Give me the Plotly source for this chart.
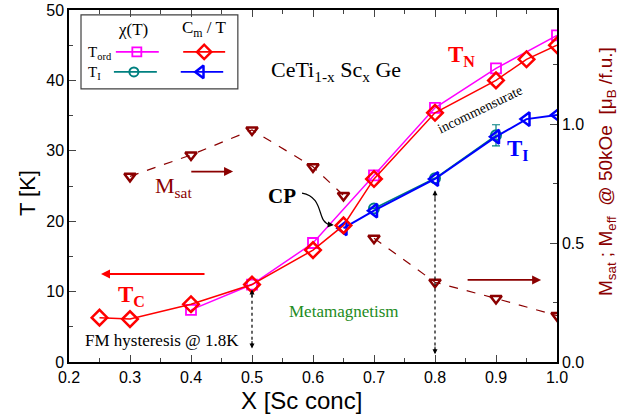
import plotly.graph_objects as go

# ---------------- data ----------------
x_cm_ord = [0.25, 0.3, 0.4, 0.5, 0.6, 0.65, 0.7, 0.8, 0.9, 0.95, 1.0]
t_cm_ord = [6.3, 6.1, 8.2, 11.0, 15.9, 19.4, 26.0, 35.4, 40.0, 43.0, 45.0]

x_chi_ord = [0.4, 0.5, 0.6, 0.7, 0.8, 0.9, 1.0]
t_chi_ord = [7.4, 11.0, 16.9, 26.5, 36.1, 41.7, 46.4]

x_cm_i = [0.65, 0.7, 0.8, 0.9, 0.95, 1.0]
t_cm_i = [19.0, 21.5, 26.0, 32.0, 34.5, 35.1]

x_chi_i = [0.7, 0.8, 0.9]
t_chi_i = [21.8, 26.1, 32.2]
err_chi_i = [0, 0, 1.5]

x_msat_fm = [0.3, 0.4, 0.5, 0.6, 0.65]
m_msat_fm = [0.78, 0.87, 0.975, 0.82, 0.70]

x_msat_af = [0.7, 0.8, 0.9, 1.0]
m_msat_af = [0.52, 0.335, 0.267, 0.195]

RED = "#FF0000"
MAG = "#FF00FF"
BLUE = "#0000FF"
TEAL = "#008080"
DRED = "#8B0000"
GREEN = "#228B22"
SERIF = "Liberation Serif, Times New Roman, serif"
SANS = "Liberation Sans, Arial, sans-serif"

fig = go.Figure()

# Msat (right axis)
for xs, ys in ((x_msat_fm, m_msat_fm), (x_msat_af, m_msat_af)):
    fig.add_trace(go.Scatter(x=xs, y=ys, yaxis="y2", mode="lines+markers",
                             line=dict(color=DRED, width=1.2, dash="dash"),
                             marker=dict(symbol="triangle-down-open", size=10, color=DRED,
                                         line=dict(width=2.5, color=DRED)),
                             showlegend=False))

# chi T_I
fig.add_trace(go.Scatter(x=x_chi_i, y=t_chi_i, mode="lines+markers",
                         line=dict(color=TEAL, width=1.5),
                         marker=dict(symbol="circle-open", size=10, color=TEAL,
                                     line=dict(width=2, color=TEAL)),
                         error_y=dict(type="data", array=err_chi_i, color=TEAL,
                                      thickness=1.2, width=4),
                         showlegend=False))
# Cm/T T_I
fig.add_trace(go.Scatter(x=x_cm_i, y=t_cm_i, mode="lines+markers",
                         line=dict(color=BLUE, width=2),
                         marker=dict(symbol="triangle-left-open", size=12, color=BLUE,
                                     line=dict(width=2.5, color=BLUE)),
                         showlegend=False))
# chi T_ord
fig.add_trace(go.Scatter(x=x_chi_ord, y=t_chi_ord, mode="lines+markers",
                         line=dict(color=MAG, width=1.5),
                         marker=dict(symbol="square-open", size=10, color=MAG,
                                     line=dict(width=1.8, color=MAG)),
                         showlegend=False))
# Cm/T T_ord
fig.add_trace(go.Scatter(x=x_cm_ord, y=t_cm_ord, mode="lines+markers",
                         line=dict(color=RED, width=1.5),
                         marker=dict(symbol="diamond-open", size=12, color=RED,
                                     line=dict(width=2.5, color=RED)),
                         showlegend=False))

# ---------------- manual legend (hidden overlay axes, 0..1) ----------------
leg_rows = [
    ([0.096, 0.139, 0.184], 0.881, MAG, "square-open", 9, 1.8),
    ([0.234, 0.277, 0.320], 0.881, RED, "diamond-open", 11, 2.5),
    ([0.092, 0.133, 0.180], 0.824, TEAL, "circle-open", 9, 2),
    ([0.229, 0.270, 0.316], 0.824, BLUE, "triangle-left-open", 11, 2.5),
]
for xs, yy, col, sym, sz, lw in leg_rows:
    fig.add_trace(go.Scatter(x=xs, y=[yy] * 3, xaxis="x3", yaxis="y3", mode="lines",
                             line=dict(color=col, width=1.8), showlegend=False,
                             hoverinfo="skip"))
    fig.add_trace(go.Scatter(x=[xs[1]], y=[yy], xaxis="x3", yaxis="y3", mode="markers",
                             marker=dict(symbol=sym, size=sz, color=col,
                                         line=dict(width=lw, color=col)),
                             showlegend=False, hoverinfo="skip"))

shapes = []
shapes.append(dict(type="rect", xref="paper", yref="paper", x0=0.0246, x1=0.346,
                   y0=0.776, y1=0.986, line=dict(color="#404040", width=1.2),
                   fillcolor="rgba(0,0,0,0)"))
# dotted vertical lines
shapes.append(dict(type="line", xref="x", yref="y", x0=0.5, x1=0.5, y0=2.3, y1=10.0,
                   line=dict(color="black", width=1.2, dash="dot")))
shapes.append(dict(type="line", xref="x", yref="y", x0=0.8, x1=0.8, y0=1.5, y1=24.0,
                   line=dict(color="black", width=1.2, dash="dot")))
# CP curved arrow
shapes.append(dict(type="path", xref="x", yref="y",
                   path="M 0.582,24.0 C 0.62,23.4 0.605,19.8 0.628,19.5",
                   line=dict(color="black", width=1.2)))

ann = []
def txt(x, y, s, size, color="black", font=SERIF, **kw):
    ann.append(dict(x=x, y=y, xref="x", yref="y", text=s, showarrow=False,
                    xanchor="center", yanchor="middle",
                    font=dict(size=size, color=color, family=font), **kw))

txt(0.638, 41.3, "CeTi<sub>1-x</sub> Sc<sub>x</sub> Ge", 22)
txt(0.843, 43.4, "<b>T<sub>N</sub></b>", 23, RED)
txt(0.936, 30.1, "<b>T<sub>I</sub></b>", 23, BLUE)
txt(0.302, 9.4, "<b>T<sub>C</sub></b>", 23, RED)
txt(0.372, 24.9, "M<sub>sat</sub>", 22, DRED)
txt(0.549, 23.6, "<b>CP</b>", 21)
txt(0.874, 35.8, "incommensurate", 14, textangle=-26)
txt(0.650, 7.2, "Metamagnetism", 17, GREEN)
txt(0.353, 3.0, "FM hysteresis @ 1.8K", 17)

def arrow(x0, y0, x1, y1, color, width=1.8, yref="y", head=2, size=1):
    ann.append(dict(x=x1, y=y1, ax=x0, ay=y0, xref="x", yref=yref, axref="x",
                    ayref=yref, text="", showarrow=True, arrowhead=head,
                    arrowsize=size, arrowwidth=width, arrowcolor=color))

arrow(0.4246, 12.5, 0.2525, 12.5, RED)
arrow(0.398, 0.80, 0.469, 0.80, DRED, yref="y2")
arrow(0.851, 0.345, 0.974, 0.345, DRED, yref="y2")
# small heads on dotted lines
arrow(0.5, 9.0, 0.5, 10.3, "black", width=1, head=2)
arrow(0.5, 3.2, 0.5, 1.9, "black", width=1, head=2)
arrow(0.8, 23.0, 0.8, 24.4, "black", width=1, head=2)
arrow(0.8, 2.4, 0.8, 1.1, "black", width=1, head=2)
# CP arrowhead
arrow(0.622, 19.55, 0.634, 19.45, "black", width=1.2, head=2)

# paper-referenced texts (legend, axis titles)
def ptxt(x, y, s, size, xanchor="center", color="black", font=SERIF, **kw):
    ann.append(dict(x=x, y=y, xref="paper", yref="paper", text=s, showarrow=False,
                    xanchor=xanchor, yanchor="middle",
                    font=dict(size=size, color=color, family=font), **kw))
ptxt(0.131, 0.945, "χ(T)", 17)
ptxt(0.277, 0.945, "C<sub>m</sub> / T", 17)
ptxt(0.035, 0.878, "T<sub>ord</sub>", 15, xanchor="left")
ptxt(0.035, 0.821, "T<sub>I</sub>", 15, xanchor="left")

ptxt(0.477, -0.108, "X [Sc conc]", 24, font=SANS)
ptxt(-0.086, 0.48, "T [K]", 22, font=SANS, textangle=-90)
ptxt(1.102, 0.542,
     "M<sub>sat</sub> ; M<sub>eff</sub>  @ 50kOe  [μ<sub>B</sub> /f.u.]",
     19, font=SANS, color=DRED, textangle=-90)

fig.update_layout(
    template="none",
    width=642, height=415,
    margin=dict(l=69, r=85, t=10, b=53, autoexpand=False),
    paper_bgcolor="white", plot_bgcolor="white",
    font=dict(family=SANS, size=16, color="black"),
    xaxis=dict(range=[0.2, 1.0], dtick=0.1, tick0=0.2, tickformat=".1f",
               ticks="inside", ticklen=7, tickwidth=1.2, showline=True, linewidth=1.5,
               linecolor="black", mirror="ticks", showgrid=False, zeroline=False,
               automargin=False,
               minor=dict(dtick=0.05, ticks="inside", ticklen=4, tickwidth=1),
               tickfont=dict(size=16)),
    yaxis=dict(range=[0, 50], dtick=10, ticks="inside", ticklen=7, tickwidth=1.2,
               showline=True, linewidth=1.5, linecolor="black", showgrid=False,
               zeroline=False, automargin=False,
               minor=dict(dtick=5, ticks="inside", ticklen=4, tickwidth=1),
               tickfont=dict(size=16)),
    yaxis2=dict(range=[0, 1.479], dtick=0.5, tickformat=".1f", overlaying="y",
                side="right", ticks="inside", ticklen=7, tickwidth=1.2,
                showline=True, linewidth=1.5, linecolor="black", showgrid=False,
                zeroline=False, automargin=False,
                minor=dict(dtick=0.25, ticks="inside", ticklen=4, tickwidth=1),
                tickfont=dict(size=16)),
    xaxis3=dict(range=[0, 1], overlaying="x", visible=False, fixedrange=True),
    yaxis3=dict(range=[0, 1], overlaying="y", visible=False, fixedrange=True),
    shapes=shapes,
    annotations=ann,
    showlegend=False,
)

fig.write_html("out.html", config={"displayModeBar": False},
               post_script="document.body.style.margin='0';document.body.style.overflow='hidden';")
